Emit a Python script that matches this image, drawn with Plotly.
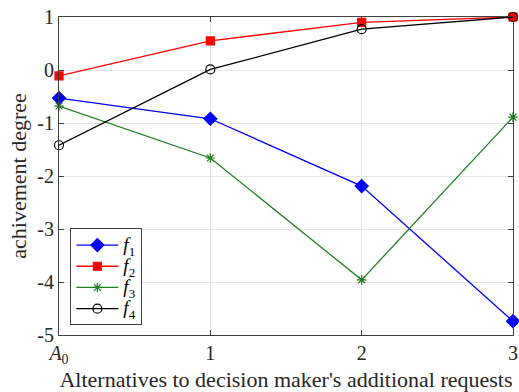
import plotly.graph_objects as go

x_vals = [0, 1, 2, 3]
x_ticktext = ["<i>A</i><sub>0</sub>", "1", "2", "3"]
y_vals = [-5, -4, -3, -2, -1, 0, 1]
y_ticktext = ["-5", "-4", "-3", "-2", "-1", "0", "1"]
series_names = ["1", "2", "3", "4"]
f1 = [-0.53, -0.92, -2.19, -4.74]
f2 = [-0.11, 0.55, 0.90, 1.0]
f3 = [-0.68, -1.66, -3.96, -0.89]
f4 = [-1.42, 0.01, 0.77, 1.0]

SERIF = "Liberation Serif, Times New Roman, DejaVu Serif, serif"

def legend_label(idx):
    return ("<span style='font-style:italic;font-size:19px'>f</span>"
            "<span style='font-size:13px;baseline-shift:-35%'>" + idx + "</span>")

series = [
    (series_names[0], f1, "#0000FF", "diamond", 10),
    (series_names[1], f2, "#FF0000", "square", 8),
    (series_names[2], f3, "#1F7F1F", "asterisk-open", 8),
    (series_names[3], f4, "#000000", "circle-open", 9),
]

fig = go.Figure()
for idx, vals, color, sym, size in series:
    fig.add_trace(go.Scatter(
        x=x_vals, y=vals, name=legend_label(idx), mode="lines+markers",
        line=dict(color=color, width=1.3),
        marker=dict(symbol=sym, size=size, color=color, line=dict(color=color, width=1.2)),
        cliponaxis=False,
    ))

axis_common = dict(
    showline=True, linecolor="#404040", linewidth=1, mirror="ticks",
    ticks="inside", ticklen=5, tickcolor="#404040",
    showgrid=True, gridcolor="#E6E6E6", gridwidth=1, zeroline=False,
    tickfont=dict(family=SERIF, size=20, color="#262626"),
    ticklabeloverflow="allow",
)

fig.update_layout(
    width=519, height=392,
    margin=dict(l=59, r=6, t=17, b=57),
    paper_bgcolor="white", plot_bgcolor="white",
    font=dict(family=SERIF, color="#262626"),
    xaxis=dict(range=[0, 3], tickvals=x_vals, ticktext=x_ticktext,
               title=dict(text="Alternatives to decision maker's additional requests",
                          font=dict(family=SERIF, size=22), standoff=2),
               automargin=False, **axis_common),
    yaxis=dict(range=[-5, 1], tickvals=y_vals, ticktext=y_ticktext,
               title=dict(text="achivement degree",
                          font=dict(family=SERIF, size=22), standoff=4),
               automargin=False, **axis_common),
    legend=dict(x=0.025, y=0.335, xanchor="left", yanchor="top",
                bgcolor="white", bordercolor="#404040", borderwidth=1,
                font=dict(family=SERIF, size=14, color="#000000"),
                tracegroupgap=0, itemwidth=42),
    showlegend=True,
)

fig.write_html(
    "out.html",
    config={"displayModeBar": False},
    post_script="document.body.style.margin='0';document.body.style.overflow='hidden';",
)
